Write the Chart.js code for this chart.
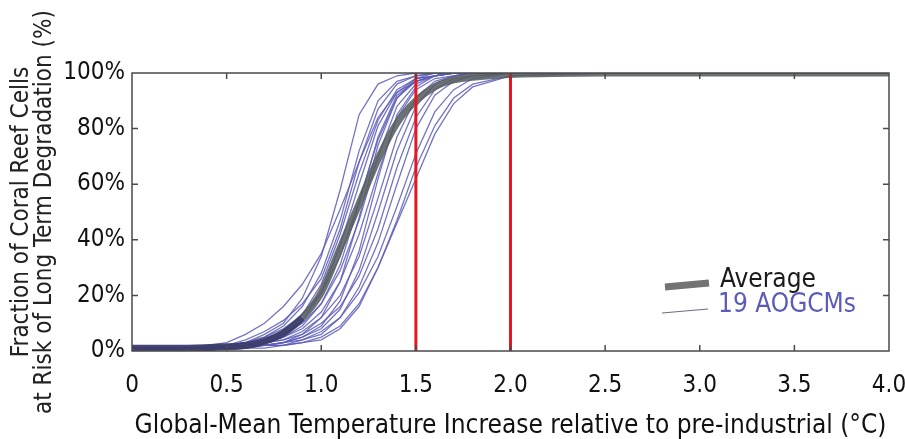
<!DOCTYPE html>
<html lang="en">
<head>
<meta charset="UTF-8">
<title>Coral reef cells at risk</title>
<style>
  body { margin: 0; background: #fff; }
</style>
</head>
<body>
<canvas id="chart" width="905" height="439"></canvas>
<script src="https://cdn.jsdelivr.net/npm/chart.js"></script>
<script>
// warming (°C) where each curve was read
const temps = [0, 0.3, 0.5, 0.6, 0.7, 0.8, 0.9, 1.0, 1.1, 1.2, 1.3, 1.4, 1.5, 1.6, 1.7, 1.8, 2.0, 2.5, 4.0];

// fraction of cells at risk (%) for the 19 models
const model01 = [1, 1, 2, 3, 6, 10, 19, 34, 58, 85, 96, 99, 100, 100, 100, 100, 100, 100, 100];
const model02 = [1, 1, 3, 6, 10, 16, 24, 35, 51, 68, 84, 93, 97, 99, 100, 100, 100, 100, 100];
const model03 = [0, 1, 2, 3, 5, 9, 16, 28, 47, 72, 90, 97, 99, 100, 100, 100, 100, 100, 100];
const model04 = [1, 1, 2, 4, 7, 11, 17, 26, 44, 68, 87, 96, 99, 100, 100, 100, 100, 100, 100];
const model05 = [1, 1, 2, 2, 4, 7, 13, 24, 42, 64, 83, 94, 98, 99, 100, 100, 100, 100, 100];
const model06 = [0, 1, 1, 2, 3, 6, 11, 21, 38, 60, 81, 93, 98, 99, 100, 100, 100, 100, 100];
const model07 = [1, 1, 2, 3, 5, 8, 13, 21, 34, 54, 76, 91, 97, 99, 100, 100, 100, 100, 100];
const model08 = [0, 1, 1, 2, 3, 5, 9, 17, 31, 53, 77, 92, 97, 99, 100, 100, 100, 100, 100];
const model09 = [1, 1, 2, 3, 4, 6, 10, 17, 29, 47, 70, 88, 96, 99, 100, 100, 100, 100, 100];
const model10 = [0, 1, 1, 2, 2, 3, 6, 12, 25, 48, 74, 91, 98, 100, 100, 100, 100, 100, 100];
const model11 = [1, 1, 2, 2, 3, 5, 8, 14, 25, 42, 64, 84, 94, 98, 99, 100, 100, 100, 100];
const model12 = [0, 0, 1, 2, 2, 3, 5, 9, 18, 36, 62, 85, 95, 99, 100, 100, 100, 100, 100];
const model13 = [1, 1, 1, 2, 3, 4, 7, 12, 20, 34, 55, 77, 91, 97, 99, 100, 100, 100, 100];
const model14 = [0, 1, 1, 2, 2, 3, 5, 8, 15, 29, 50, 72, 88, 96, 99, 100, 100, 100, 100];
const model15 = [1, 1, 1, 2, 3, 4, 6, 10, 16, 27, 44, 66, 84, 94, 98, 99, 100, 100, 100];
const model16 = [0, 0, 1, 1, 2, 2, 4, 6, 12, 23, 39, 60, 80, 92, 97, 99, 100, 100, 100];
const model17 = [1, 1, 1, 2, 2, 3, 4, 7, 12, 21, 34, 52, 71, 86, 94, 98, 100, 100, 100];
const model18 = [0, 1, 1, 1, 1, 2, 3, 5, 9, 17, 30, 47, 66, 81, 91, 96, 99, 100, 100];
const model19 = [1, 1, 1, 1, 2, 2, 3, 4, 8, 16, 30, 46, 62, 78, 89, 95, 99, 100, 100];
const models = [model01, model02, model03, model04, model05, model06, model07, model08, model09, model10,
                model11, model12, model13, model14, model15, model16, model17, model18, model19];

// multi-model average
const average = [1, 1, 1.5, 2, 3.5, 6.5, 12, 21, 37, 53, 69, 82, 90, 95, 97.5, 98.5, 99.5, 100, 100];

// red reference lines
const thresholds = [1.5, 2.0];

const xTickLabels = ['0', '0.5', '1.0', '1.5', '2.0', '2.5', '3.0', '3.5', '4.0'];
const yTickLabels = ['0%', '20%', '40%', '60%', '80%', '100%'];

const narrow = '"Liberation Sans Narrow", "DejaVu Sans Condensed", sans-serif';
const blue = 'rgba(92, 92, 184, 0.85)';
const grey = 'rgba(88, 94, 96, 0.88)';
const navy = 'rgba(58, 60, 105, 0.95)';

function toPoints(vals) {
  return temps.map((t, i) => ({ x: t, y: vals[i] }));
}

const datasets = [];
thresholds.forEach(t => {
  datasets.push({
    label: 'threshold',
    data: [{ x: t, y: 0 }, { x: t, y: 100 }],
    borderColor: '#e8171f',
    borderWidth: 3,
    pointRadius: 0,
    order: 0
  });
});
datasets.push({
  label: 'Average',
  data: toPoints(average),
  borderColor: grey,
  borderWidth: 7,
  pointRadius: 0,
  tension: 0.3,
  segment: {
    borderColor: c => c.p0.parsed.x < 0.85 ? navy : grey
  },
  order: 1
});
models.forEach((m, i) => {
  datasets.push({
    label: 'model ' + (i + 1),
    data: toPoints(m),
    borderColor: blue,
    borderWidth: 1.3,
    pointRadius: 0,
    tension: 0,
    order: 2
  });
});

// box round the plot with inward ticks, plus the small legend
const frame = {
  id: 'frame',
  afterDatasetsDraw(chart) {
    const { ctx, chartArea: a, scales: { x, y } } = chart;
    ctx.save();
    ctx.strokeStyle = '#4a4a4a';
    ctx.lineWidth = 1.5;
    ctx.strokeRect(a.left, a.top, a.right - a.left, a.bottom - a.top);
    ctx.beginPath();
    x.ticks.forEach(t => {
      if (t.value <= 0 || t.value >= 4) return;
      const px = x.getPixelForValue(t.value);
      ctx.moveTo(px, a.bottom); ctx.lineTo(px, a.bottom - 6);
      ctx.moveTo(px, a.top); ctx.lineTo(px, a.top + 6);
    });
    y.ticks.forEach(t => {
      if (t.value <= 0 || t.value >= 100) return;
      const py = y.getPixelForValue(t.value);
      ctx.moveTo(a.left, py); ctx.lineTo(a.left + 6, py);
      ctx.moveTo(a.right, py); ctx.lineTo(a.right - 6, py);
    });
    ctx.stroke();

    // legend
    ctx.lineCap = 'butt';
    ctx.strokeStyle = 'rgba(100, 100, 100, 0.9)';
    ctx.lineWidth = 7;
    ctx.beginPath(); ctx.moveTo(665, 287); ctx.lineTo(709, 283); ctx.stroke();
    ctx.strokeStyle = 'rgba(90, 90, 120, 0.9)';
    ctx.lineWidth = 1.2;
    ctx.beginPath(); ctx.moveTo(662, 313); ctx.lineTo(708, 309); ctx.stroke();
    ctx.font = '26px ' + narrow;
    ctx.textBaseline = 'alphabetic';
    ctx.fillStyle = '#1a1a1a';
    ctx.fillText('Average', 720, 287);
    ctx.fillStyle = '#5b5bb8';
    ctx.fillText('19 AOGCMs', 718, 312);
    ctx.restore();
  }
};

new Chart(document.getElementById('chart'), {
  type: 'line',
  data: { datasets: datasets },
  options: {
    responsive: false,
    animation: false,
    layout: { padding: { top: 73, right: 16, bottom: 0, left: 0 } },
    plugins: { legend: { display: false }, tooltip: { enabled: false } },
    scales: {
      x: {
        type: 'linear',
        min: 0,
        max: 4,
        afterFit: s => { s.height = 88; s.paddingLeft = 0; s.paddingRight = 0; },
        afterBuildTicks: s => { s.ticks = xTickLabels.map(l => ({ value: parseFloat(l) })); },
        ticks: {
          padding: 20,
          color: '#111',
          font: { family: narrow, size: 24 },
          callback: (v, i) => xTickLabels[i]
        },
        grid: { display: false, drawTicks: false },
        border: { display: false },
        title: {
          display: true,
          text: 'Global-Mean Temperature Increase relative to pre-industrial (°C)',
          color: '#111',
          font: { family: narrow, size: 26, lineHeight: 1.0 },
          padding: { top: 0, bottom: 0 }
        }
      },
      y: {
        min: 0,
        max: 100,
        afterFit: s => { s.width = 132; s.paddingTop = 0; s.paddingBottom = 0; },
        afterBuildTicks: s => { s.ticks = yTickLabels.map(l => ({ value: parseFloat(l) })); },
        ticks: {
          padding: 7,
          color: '#111',
          font: { family: narrow, size: 24 },
          callback: (v, i) => yTickLabels[i]
        },
        grid: { display: false, drawTicks: false },
        border: { display: false },
        title: {
          display: true,
          text: ['Fraction of Coral Reef Cells', 'at Risk of Long Term Degradation (%)'],
          color: '#222',
          font: { family: narrow, size: 24, lineHeight: 0.97 },
          padding: { top: 10, bottom: 0 }
        }
      }
    }
  },
  plugins: [frame]
});
</script>
</body>
</html>
